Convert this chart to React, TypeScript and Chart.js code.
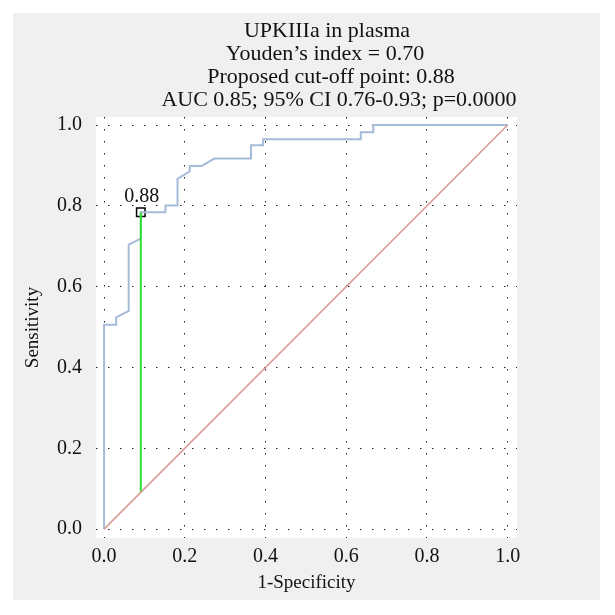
import React, { useEffect, useRef } from "react";
import { Chart, registerables } from "chart.js";

Chart.register(...registerables);

// ROC curve vertices (1-Specificity, Sensitivity)
const rocX = [0, 0, 0.03, 0.03, 0.061, 0.061, 0.091, 0.091, 0.152, 0.152, 0.182, 0.182, 0.212, 0.212, 0.242, 0.273, 0.364, 0.364, 0.394, 0.394, 0.636, 0.636, 0.667, 0.667, 1.0];
const rocY = [0, 0.506, 0.506, 0.524, 0.54, 0.704, 0.719, 0.784, 0.784, 0.801, 0.801, 0.867, 0.885, 0.899, 0.899, 0.917, 0.917, 0.95, 0.95, 0.965, 0.965, 0.982, 0.982, 1.0, 1.0];
const diagX = [0, 1];
const diagY = [0, 1];
const cutoffX = 0.091;
const cutoffY = 0.784;
const cutoffLabel = "0.88";
const axisTicks = [0, 0.2, 0.4, 0.6, 0.8, 1.0];
const titleLines = [
  "UPKIIIa in plasma",
  "Youden\u2019s index = 0.70",
  "Proposed cut-off point: 0.88",
  "AUC 0.85; 95% CI 0.76-0.93; p=0.0000",
];
const xTitle = "1-Specificity";
const yTitle = "Sensitivity";

const SERIF = "'Liberation Serif', 'DejaVu Serif', serif";

const bgPlugin = {
  id: "bgPlugin",
  beforeDraw(chart: any) {
    const { ctx, chartArea } = chart;
    ctx.save();
    ctx.fillStyle = "#ffffff";
    ctx.fillRect(0, 0, chart.width, chart.height);
    ctx.fillStyle = "#f0f0f0";
    ctx.fillRect(13, 13, 587, 587);
    ctx.fillStyle = "#ffffff";
    ctx.fillRect(chartArea.left, chartArea.top, chartArea.right - chartArea.left, chartArea.bottom - chartArea.top);
    ctx.restore();
  },
  afterDraw(chart: any) {
    const { ctx } = chart;
    ctx.save();
    ctx.fillStyle = "#111111";
    ctx.font = `22px ${SERIF}`;
    ctx.textAlign = "center";
    ctx.textBaseline = "alphabetic";
    const centers = [327, 325, 331, 339];
    titleLines.forEach((line, i) => {
      ctx.fillText(line, centers[i], 37 + i * 23.1);
    });
    const xs = chart.scales.x;
    const ys = chart.scales.y;
    const px = xs.getPixelForValue(cutoffX);
    const py = ys.getPixelForValue(cutoffY);
    ctx.font = `20px ${SERIF}`;
    ctx.fillText(cutoffLabel, px + 1, py - 10);
    ctx.restore();
  },
};

export default function App() {
  const ref = useRef<HTMLCanvasElement | null>(null);
  useEffect(() => {
    if (!ref.current) return;
    const chart = new Chart(ref.current, {
      type: "scatter",
      data: {
        datasets: [
          {
            label: "diag",
            data: diagX.map((x, i) => ({ x, y: diagY[i] })),
            showLine: true,
            borderColor: "#d69b90",
            borderWidth: 1.5,
            pointRadius: 0,
          },
          {
            label: "cutoff line",
            data: [
              { x: cutoffX, y: cutoffX },
              { x: cutoffX, y: cutoffY },
            ],
            showLine: true,
            borderColor: "#2ee02e",
            borderWidth: 2,
            pointRadius: 0,
          },
          {
            label: "ROC",
            data: rocX.map((x, i) => ({ x, y: rocY[i] })),
            showLine: true,
            borderColor: "#a6bbd9",
            borderWidth: 2,
            pointRadius: 0,
          },
          {
            label: "cutoff",
            data: [{ x: cutoffX, y: cutoffY }],
            pointStyle: "rect",
            pointRadius: 6,
            borderColor: "#000000",
            backgroundColor: "rgba(0,0,0,0)",
            borderWidth: 1.5,
          },
        ],
      },
      options: {
        responsive: false,
        animation: false,
        devicePixelRatio: 1,
        layout: { padding: { top: 117, left: 13, right: 98, bottom: 15 } },
        plugins: { legend: { display: false }, tooltip: { enabled: false }, title: { display: false } },
        scales: {
          x: {
            type: "linear",
            min: -0.02,
            max: 1.023,
            afterBuildTicks: (s: any) => {
              s.ticks = axisTicks.map((v) => ({ value: v }));
            },
            afterFit: (s: any) => {
              s.height = 62;
            },
            ticks: {
              color: "#111",
              font: { family: SERIF, size: 20 },
              padding: 7,
              callback: (v: any) => Number(v).toFixed(1),
            },
            grid: { color: "#222", lineWidth: 1, drawTicks: false } as any,
            border: { display: false, dash: [1.5, 10.5] },
            title: { display: true, text: xTitle, color: "#111", font: { family: SERIF, size: 19 }, padding: { top: 0, bottom: 6 } },
          },
          y: {
            type: "linear",
            min: -0.022,
            max: 1.02,
            afterBuildTicks: (s: any) => {
              s.ticks = axisTicks.map((v) => ({ value: v }));
            },
            afterFit: (s: any) => {
              s.width = 83;
            },
            ticks: {
              color: "#111",
              font: { family: SERIF, size: 20 },
              padding: 14,
              callback: (v: any) => Number(v).toFixed(1),
            },
            grid: { color: "#222", lineWidth: 1, drawTicks: false } as any,
            border: { display: false, dash: [1.5, 10.5] },
            title: { display: true, text: yTitle, color: "#111", font: { family: SERIF, size: 19 }, padding: { top: 9, bottom: 0 } },
          },
        },
      },
      plugins: [bgPlugin],
    });
    return () => chart.destroy();
  }, []);
  return (
    <div style={{ position: "absolute", left: 0, top: 0, width: 615, height: 615 }}>
      <canvas ref={ref} width={615} height={615} style={{ width: 615, height: 615 }} />
    </div>
  );
}
